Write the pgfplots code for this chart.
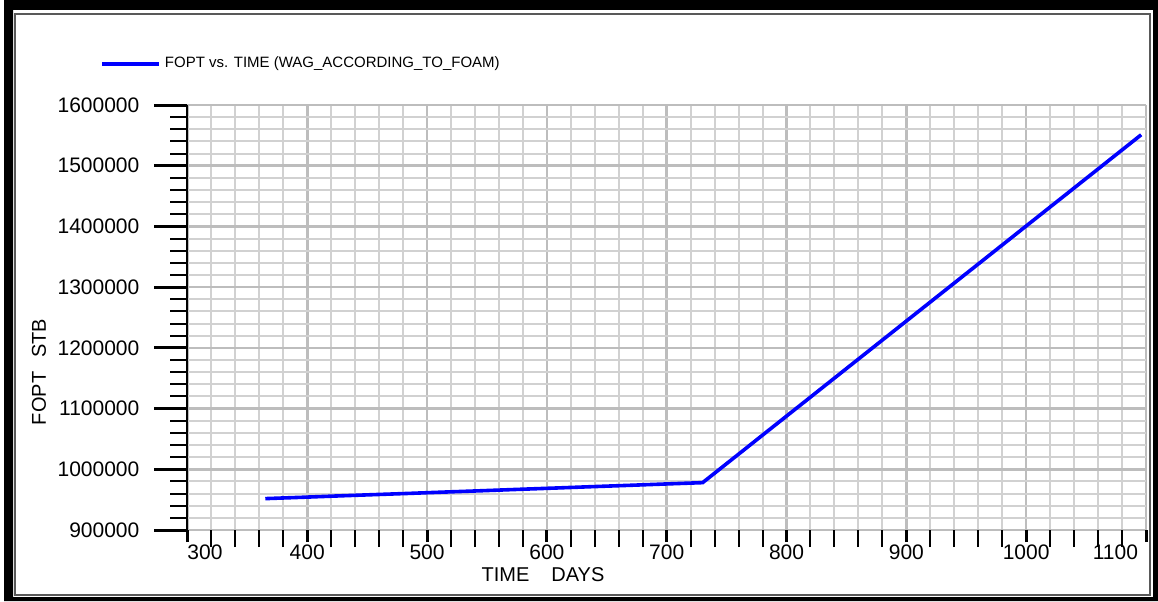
\documentclass[border=0pt]{standalone}
\usepackage{fontspec}
\setmainfont{Liberation Sans}
\usepackage{pgfplots}
\pgfplotsset{compat=1.18}
\begin{document}
\begin{tikzpicture}
\useasboundingbox (0pt,0pt) rectangle (579pt,300.5pt);
% window frame
\fill[black, even odd rule] (2pt,0pt) rectangle (579pt,300.5pt) (6.5pt,2pt) rectangle (576.5pt,295.5pt);
\draw[black!65, line width=1pt] (7.5pt,3pt) rectangle (575pt,293.5pt);

\begin{axis}[
  at={(93.7pt,35.5pt)}, anchor=south west,
  scale only axis, width=479.3pt, height=212.5pt,
  xmin=300, xmax=1100, ymin=900000, ymax=1600000,
  xtick={300,400,500,600,700,800,900,1000,1100},
  minor x tick num=4,
  ytick={900000,1000000,1100000,1200000,1300000,1400000,1500000,1600000},
  minor y tick num=4,
  scaled y ticks=false,
  /pgf/number format/assume math mode=true,
  yticklabel style={/pgf/number format/fixed, /pgf/number format/1000 sep={}, xshift=-4pt},
  tick label style={font=\fontsize{10.5}{12}\selectfont},
  axis x line*=bottom, axis y line*=left,
  x axis line style={draw=none},
  y axis line style={draw=black, line width=1pt},
  xmajorticks=false, xminorticks=false,
  tick align=outside,
  major tick length=16.5pt, minor tick length=8.5pt,
  major tick style={draw=black, line width=1.5pt},
  minor tick style={draw=black, line width=1pt},
  grid=both,
  major grid style={color=gray!52, line width=1.3pt},
  minor grid style={color=gray!36, line width=1pt},
  xlabel={TIME\hspace{11pt}DAYS},
  ylabel={FOPT\hspace{7pt}STB},
  label style={font=\fontsize{9.5}{11}\selectfont},
  every axis x label/.style={at={(axis description cs:0.371,-0.1059)}, anchor=center},
  every axis y label/.style={at={(axis description cs:-0.1548,0.3718)}, rotate=90, anchor=center},
  legend style={at={(axis description cs:-0.0912,1.0965)}, anchor=west, draw=none, fill=none,
    inner sep=0pt, font=\fontsize{7.5}{9}\selectfont},
  legend cell align=left,
  legend image code/.code={\draw[#1] (0pt,0pt) -- (28.5pt,0pt);},
]
\addplot[blue, line width=1.8pt] coordinates {
(365,951700) (396,953900) (424,956000) (455,958200) (485,960300) (516,962600)
(546,964700) (577,967000) (608,969200) (638,971400) (669,973600) (699,975800)
(730,978000) (761,1026500) (789,1070400) (820,1118900) (850,1165900)
(881,1214400) (911,1261400) (942,1309900) (973,1358400) (1003,1405400)
(1034,1453900) (1064,1500900) (1096,1551000)
};
\addlegendentry{FOPT vs. TIME (WAG\_ACCORDING\_TO\_FOAM)}
\end{axis}

\begin{axis}[
  at={(93.7pt,35.5pt)}, anchor=south west,
  scale only axis, width=479.3pt, height=212.5pt,
  xmin=300, xmax=1100, ymin=0, ymax=1,
  xtick={300,400,500,600,700,800,900,1000,1100},
  xticklabels={\makebox[0pt][l]{300},400,500,600,700,800,900,1000,\makebox[0pt][r]{1100\hspace{4pt}}},
  xticklabel style={yshift=2pt, font=\fontsize{10.5}{12}\selectfont},
  minor x tick num=4,
  hide y axis,
  axis line style={draw=none},
  xtick pos=bottom,
  tick align=outside,
  major tick length=6pt, minor tick length=2.5pt,
  major tick style={draw=black, line width=1.5pt},
  minor tick style={draw=black, line width=1pt},
]
\end{axis}
\end{tikzpicture}
\end{document}
